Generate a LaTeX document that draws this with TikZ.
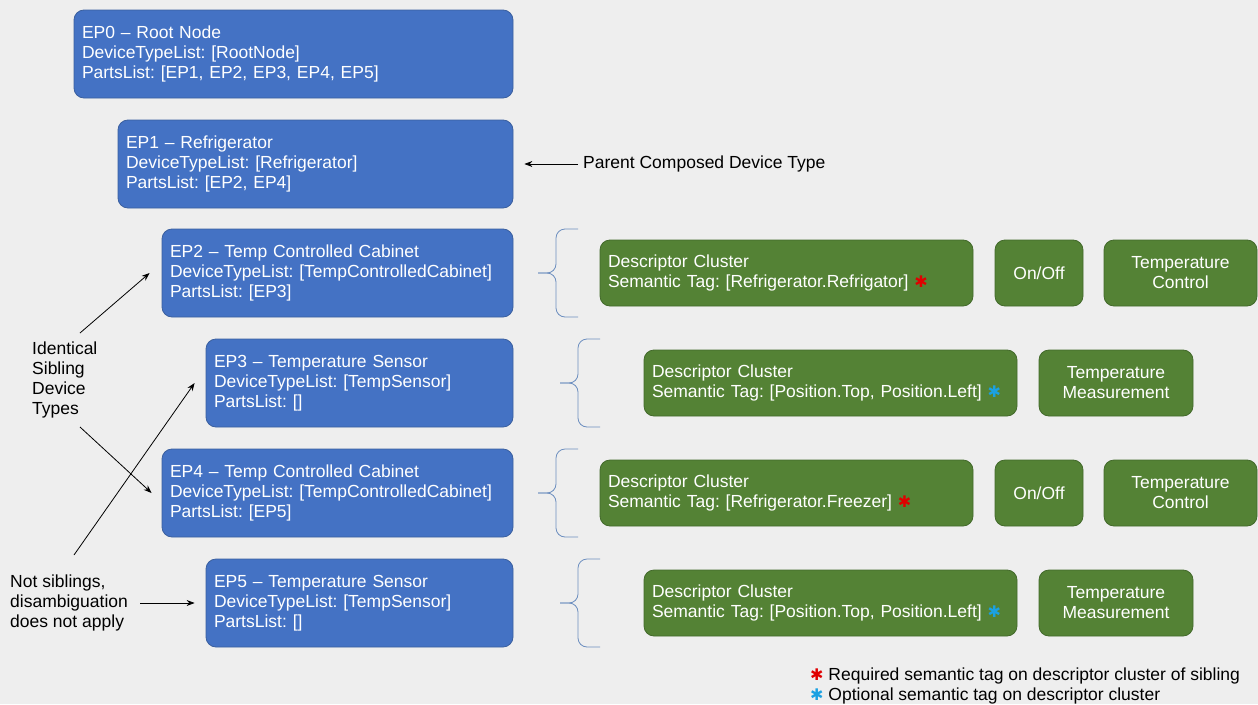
\documentclass[tikz,border=0pt]{standalone}
\usepackage{fontspec}
\setmainfont{Liberation Sans}
\newfontfamily\symfont{DejaVu Sans}
\usetikzlibrary{arrows.meta}
\definecolor{bg}{HTML}{EEEEEE}
\definecolor{epblue}{HTML}{4472C4}
\definecolor{epblueline}{HTML}{3A5F9F}
\definecolor{dcgreen}{HTML}{548235}
\definecolor{dcgreenline}{HTML}{42692A}
\definecolor{bracecol}{HTML}{6C8EBF}
\definecolor{reqred}{HTML}{E00000}
\definecolor{optblue}{HTML}{1BA1E2}
\newcommand{\reqstar}{{\symfont\fontsize{16}{16}\selectfont\color{reqred}✱}}
\newcommand{\optstar}{{\symfont\fontsize{16}{16}\selectfont\color{optblue}✱}}
\frenchspacing
\begin{document}
\begin{tikzpicture}[x=1pt,y=-1pt,
  every node/.style={font=\fontsize{17.5}{20}\selectfont},
  epbox/.style={draw=epblueline, fill=epblue, rounded corners=10pt, text=white, align=left, inner xsep=8pt, minimum height=88pt, line width=0.8pt},
  dcbox/.style={draw=dcgreenline, fill=dcgreen, rounded corners=10pt, text=white, align=left, inner xsep=8pt, minimum height=66pt, minimum width=373pt, text width=357pt, line width=0.8pt},
  featbox/.style={draw=dcgreenline, fill=dcgreen, rounded corners=10pt, text=white, align=center, minimum height=66pt, line width=0.8pt},
  lbl/.style={align=left, inner sep=0pt, text=black},
  arr/.style={-{Stealth[length=8pt,width=6pt]}, line width=0.8pt},
  bracestyle/.style={draw=bracecol, line width=0.8pt, rounded corners=9pt},
]
\fill[bg] (0,0) rectangle (1258,704);
\useasboundingbox (0,0) rectangle (1258,704);

% endpoint boxes
\node[epbox, minimum width=439pt, text width=423pt] (ep0) at (293.5,54) {EP0 – Root Node\\DeviceTypeList: [RootNode]\\PartsList: [EP1, EP2, EP3, EP4, EP5]};
\node[epbox, minimum width=395pt, text width=379pt] (ep1) at (315.5,164) {EP1 – Refrigerator\\DeviceTypeList: [Refrigerator]\\PartsList: [EP2, EP4]};
\node[epbox, minimum width=351pt, text width=335pt] (ep2) at (337.5,273) {EP2 – Temp Controlled Cabinet\\DeviceTypeList: [TempControlledCabinet]\\PartsList: [EP3]};
\node[epbox, minimum width=307pt, text width=291pt] (ep3) at (359.5,383) {EP3 – Temperature Sensor\\DeviceTypeList: [TempSensor]\\PartsList: []};
\node[epbox, minimum width=351pt, text width=335pt] (ep4) at (337.5,493) {EP4 – Temp Controlled Cabinet\\DeviceTypeList: [TempControlledCabinet]\\PartsList: [EP5]};
\node[epbox, minimum width=307pt, text width=291pt] (ep5) at (359.5,603) {EP5 – Temperature Sensor\\DeviceTypeList: [TempSensor]\\PartsList: []};

% cluster boxes
\node[dcbox] (dc2) at (786.5,273) {Descriptor Cluster\\Semantic Tag: [Refrigerator.Refrigator] \reqstar};
\node[featbox, minimum width=88pt] (on2) at (1039,273) {On/Off};
\node[featbox, minimum width=153pt] (tc2) at (1180.5,273) {Temperature\\Control};

\node[dcbox] (dc3) at (830.5,383) {Descriptor Cluster\\Semantic Tag: [Position.Top, Position.Left] \optstar};
\node[featbox, minimum width=154pt] (tm3) at (1116,383) {Temperature\\Measurement};

\node[dcbox] (dc4) at (786.5,493) {Descriptor Cluster\\Semantic Tag: [Refrigerator.Freezer] \reqstar};
\node[featbox, minimum width=88pt] (on4) at (1039,493) {On/Off};
\node[featbox, minimum width=153pt] (tc4) at (1180.5,493) {Temperature\\Control};

\node[dcbox] (dc5) at (830.5,603) {Descriptor Cluster\\Semantic Tag: [Position.Top, Position.Left] \optstar};
\node[featbox, minimum width=154pt] (tm5) at (1116,603) {Temperature\\Measurement};

% braces
\foreach \xo/\yo in {0/229, 22/339, 0/449, 22/559}{
  \draw[bracestyle] (578+\xo,\yo) -- (556+\xo,\yo) -- (556+\xo,\yo+44) -- (538+\xo,\yo+44);
  \draw[bracestyle] (538+\xo,\yo+44) -- (556+\xo,\yo+44) -- (556+\xo,\yo+88) -- (578+\xo,\yo+88);
}

% labels
\node[lbl, anchor=west] (parent) at (583,164) {Parent Composed Device Type};
\node[lbl, anchor=west] (ident) at (32,380) {Identical\\Sibling\\Device\\Types};
\node[lbl, anchor=west] (notsib) at (10,603) {Not siblings,\\disambiguation\\does not apply};

\coordinate (id1) at (80,333);
\coordinate (id2) at (80,427);
\coordinate (ns1) at (74,555);
\coordinate (ns2) at (140,603);

% connectors
\draw[arr] ([xshift=-5pt]parent.west) -- ([xshift=11pt]ep1.east);
\draw[arr] (id1) -- ([xshift=-12pt]ep2.west);
\draw[arr] (id2) -- ([xshift=-10pt]ep4.west);
\draw[arr] (ns1) -- ([xshift=-11pt]ep3.west);
\draw[arr] (ns2) -- ([xshift=-11pt]ep5.west);

% legend
\node[lbl, anchor=west] (leg1) at (810,676) {\reqstar\ Required semantic tag on descriptor cluster of sibling};
\node[lbl, anchor=west] (leg2) at (810,696) {\optstar\ Optional semantic tag on descriptor cluster};
\end{tikzpicture}
\end{document}
